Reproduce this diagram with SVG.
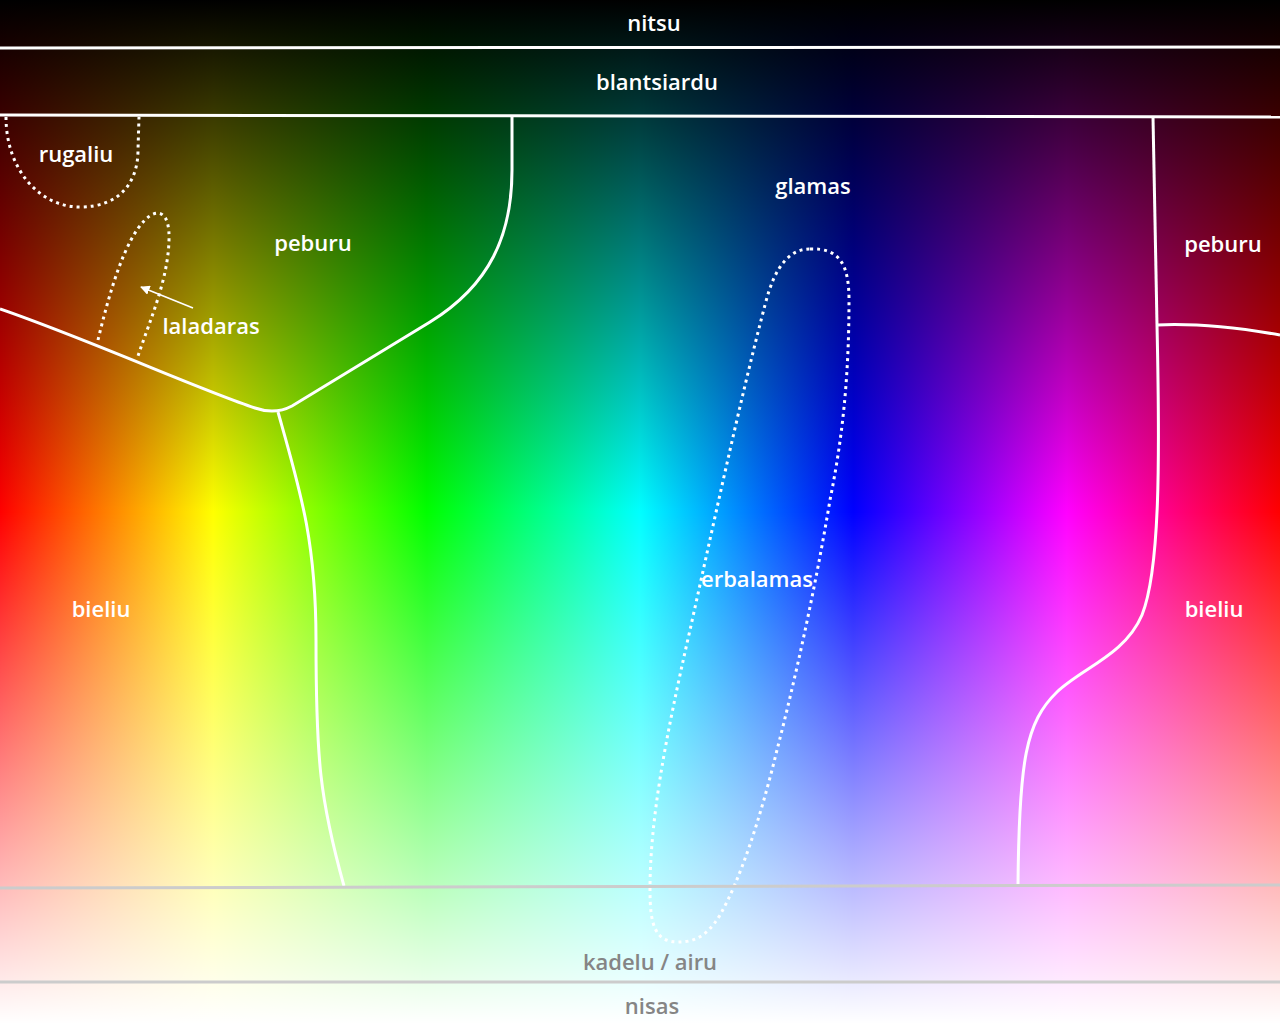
<svg xmlns="http://www.w3.org/2000/svg" width="1280" height="1024" viewBox="0 0 1280 1024">
  <defs>
    <linearGradient id="hue" x1="0" y1="0" x2="1280" y2="0" gradientUnits="userSpaceOnUse">
      <stop offset="0" stop-color="#ff0000"/>
      <stop offset="0.1667" stop-color="#ffff00"/>
      <stop offset="0.3333" stop-color="#00ff00"/>
      <stop offset="0.5" stop-color="#00ffff"/>
      <stop offset="0.6667" stop-color="#0000ff"/>
      <stop offset="0.8333" stop-color="#ff00ff"/>
      <stop offset="1" stop-color="#ff0000"/>
    </linearGradient>
    <linearGradient id="light" x1="0" y1="0" x2="0" y2="1024" gradientUnits="userSpaceOnUse">
      <stop offset="0" stop-color="#000000" stop-opacity="1"/>
      <stop offset="0.5" stop-color="#000000" stop-opacity="0"/>
      <stop offset="0.5" stop-color="#ffffff" stop-opacity="0"/>
      <stop offset="1" stop-color="#ffffff" stop-opacity="1"/>
    </linearGradient>
    <marker id="arr" viewBox="0 0 10 10" refX="9" refY="5" markerWidth="6" markerHeight="6" orient="auto" markerUnits="strokeWidth">
      <path d="M0,0 L10,5 L0,10 Z" fill="#ffffff"/>
    </marker>
  </defs>
  <style>
    .b { fill: none; stroke: #ffffff; stroke-width: 3; }
    .g { fill: none; stroke: #cccccc; stroke-width: 3; }
    .d { fill: none; stroke: #ffffff; stroke-width: 3; stroke-dasharray: 3 4; }
    .t { font-family: "Open Sans", "Noto Sans", "Liberation Sans", sans-serif; font-size: 22px; font-weight: 600; fill: #ffffff; text-anchor: middle; }
    .tg { fill: #858585; }
  </style>

  <rect x="0" y="0" width="1280" height="1024" fill="url(#hue)"/>
  <rect x="0" y="0" width="1280" height="1024" fill="url(#light)"/>

  <g id="nitsu">
    <path class="b" d="M0,48 L1280,47"/>
    <text class="t" x="654" y="31">nitsu</text>
  </g>
  <g id="blantsiardu">
    <path class="b" d="M0,115 L1280,117"/>
    <text class="t" x="657" y="90">blantsiardu</text>
  </g>
  <g id="rugaliu">
    <path class="d" d="M6,117 C6,170 40,207 80,207 C120,207 138,182 138,150 L139,117"/>
    <text class="t" x="76" y="162">rugaliu</text>
  </g>
  <g id="peburu-left">
    <path class="b" d="M0,309 C90,340 200,390 255,408 Q275,415 292,406 L430,322 C490,285 512,235 512,170 L512,116"/>
    <text class="t" x="313" y="251">peburu</text>
  </g>
  <g id="laladaras">
    <path class="d" d="M98,340 C110,290 125,240 145,220 C158,207 170,212 169,240 C168,280 150,320 138,356"/>
    <text class="t" x="211" y="334">laladaras</text>
  </g>
  <g id="glamas">
    <text class="t" x="813" y="194">glamas</text>
  </g>
  <g id="peburu-right">
    <path class="b" d="M1153,117 L1157,325"/>
    <path class="b" d="M1157,325 C1200,323 1240,328 1280,335"/>
    <text class="t" x="1223" y="252">peburu</text>
  </g>
  <g id="bieliu-left">
    <path class="b" d="M278,412 C300,490 316,540 316,640 C316,760 320,800 344,886"/>
    <text class="t" x="101" y="617">bieliu</text>
  </g>
  <g id="bieliu-right">
    <path class="b" d="M1157,325 C1160,460 1160,570 1142,615 C1125,655 1082,668 1057,692 C1026,722 1019,760 1018,885"/>
    <text class="t" x="1214" y="617">bieliu</text>
  </g>
  <g id="erbalamas">
    <path class="d" d="M810,249 C838,248 849,262 849,300 C849,380 842,440 830,500 C815,590 795,680 777,750 C760,820 740,880 720,915 C705,940 690,942 678,942 C655,942 650,925 650,890 C650,820 665,740 690,630 C710,540 740,400 765,305 C775,265 790,249 810,249 Z"/>
    <text class="t" x="757" y="587">erbalamas</text>
  </g>
  <g id="kadelu-airu">
    <path class="g" d="M0,888 L1280,885"/>
    <text class="t tg" x="650" y="970">kadelu / airu</text>
  </g>
  <g id="nisas">
    <path class="g" d="M0,982 L1280,982"/>
    <text class="t tg" x="652" y="1014">nisas</text>
  </g>

  <g id="connectors">
    <line x1="193" y1="308" x2="141" y2="287" stroke="#ffffff" stroke-width="1.6" marker-end="url(#arr)"/>
  </g>
</svg>
